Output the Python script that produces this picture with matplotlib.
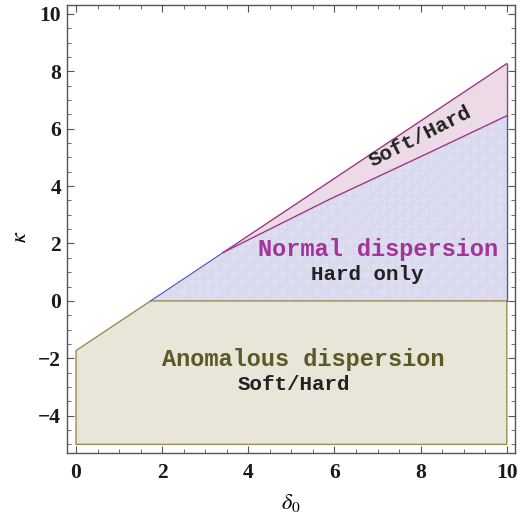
import numpy as np
import matplotlib
matplotlib.use("Agg")
import matplotlib.pyplot as plt
from matplotlib.patches import Polygon
from matplotlib.ticker import MultipleLocator

plt.rcParams["mathtext.fontset"] = "stix"

# ---- data ----
s3 = 1.732
anomalous_x = [0, s3, 10, 10, 0]
anomalous_y = [-s3, 0, 0, -5, -5]

upper_x = [s3, 10]
upper_y = [0, 10 - s3]

lower_x = [3.42, 5.9, 8.22, 10]
lower_y = [1.69, 3.55, 5.18, 6.45]

x_ticks = [0, 2, 4, 6, 8, 10]
y_ticks = [-4, -2, 0, 2, 4, 6, 8, 10]

fig = plt.figure(figsize=(5.22, 5.15), dpi=100)
ax = fig.add_axes([0.1278, 0.1204, 0.9866 - 0.1278, 0.9909 - 0.1204])
ax.set_xlim(-0.216, 10.19)
ax.set_ylim(-5.30, 10.32)

tan_fc = "#e8e5d9"
tan_ec = "#9c8b52"
blue_fc = "#dedef0"
blue_ec = "#5050b8"
pink_fc = "#ecdbe6"
pink_ec = "#9a3a88"

# anomalous region
ax.add_patch(Polygon(np.column_stack([anomalous_x, anomalous_y]), closed=True,
                     facecolor=tan_fc, edgecolor=tan_ec, lw=1.0, zorder=2))

# normal (blue) region
bx = [s3, lower_x[0]] + lower_x[1:] + [10]
by = [0, lower_y[0]] + lower_y[1:] + [0]
blue_pts = np.column_stack([bx, by])
ax.add_patch(Polygon(blue_pts, closed=True, facecolor=blue_fc, edgecolor="none", zorder=1))
ax.add_patch(Polygon(blue_pts, closed=True, fill=False, edgecolor="#d8d8ed", lw=0,
                     hatch="++//", zorder=1.1))
ax.plot([upper_x[0], lower_x[0]], [upper_y[0], lower_y[0]], color=blue_ec, lw=0.8, zorder=3)
ax.plot([10, 10], [0, lower_y[-1]], color=blue_ec, lw=1.0, zorder=3)

# soft/hard (pink) region between upper line and lower curve
ux = np.array(lower_x)
uy = ux - s3
px = list(ux) + list(ux[::-1])
py = list(uy) + list(np.array(lower_y)[::-1])
ax.add_patch(Polygon(np.column_stack([px, py]), closed=True, facecolor=pink_fc,
                     edgecolor="none", zorder=1.5))
ax.plot([lower_x[0], upper_x[1]], [lower_y[0], upper_y[1]], color=pink_ec, lw=1.0, zorder=3)
ax.plot(lower_x, lower_y, color=pink_ec, lw=1.0, zorder=3)
ax.plot([10, 10], [lower_y[-1], upper_y[1]], color=pink_ec, lw=1.0, zorder=3)

mono = "Liberation Mono"
ax.text(7.0, 1.8, "Normal dispersion", family=mono, weight="bold", fontsize=17,
        color="#a3349a", ha="center", va="center", zorder=5)
ax.text(6.75, 0.93, "Hard only", family=mono, weight="bold", fontsize=15,
        color="#222222", ha="center", va="center", zorder=5)
ax.text(5.28, -2.03, "Anomalous dispersion", family=mono, weight="bold", fontsize=17,
        color="#5b5a26", ha="center", va="center", zorder=5)
ax.text(5.06, -2.90, "Soft/Hard", family=mono, weight="bold", fontsize=15,
        color="#222222", ha="center", va="center", zorder=5)
ax.text(8.0, 5.72, "Soft/Hard", family=mono, weight="bold", fontsize=15,
        color="#222222", ha="center", va="center", rotation=27,
        rotation_mode="anchor", zorder=5)

# frame and ticks (Mathematica style)
for sp in ax.spines.values():
    sp.set_color("#555555")
    sp.set_linewidth(1.0)
ax.set_xticks(x_ticks)
ax.set_yticks(y_ticks)
ax.xaxis.set_minor_locator(MultipleLocator(0.5))
ax.yaxis.set_minor_locator(MultipleLocator(0.5))
ax.tick_params(which="both", direction="in", top=True, right=True, color="#555555")
ax.tick_params(which="major", length=5, width=0.8)
ax.tick_params(which="minor", length=3, width=0.6)
ax.tick_params(axis="x", pad=7)
ax.tick_params(axis="y", pad=4)
for lab in ax.get_xticklabels() + ax.get_yticklabels():
    lab.set_fontfamily("Liberation Serif")
    lab.set_fontweight("bold")
    lab.set_fontsize(15.5)
    lab.set_color("#1a1a1a")

ax.set_xlabel(r"$\delta_0$", fontsize=16)
ax.set_ylabel(r"$\kappa$", fontsize=16, rotation=90)
ax.xaxis.set_label_coords(0.499, -0.1115)
ax.yaxis.set_label_coords(-0.104, 0.482)
ax.xaxis.label.set_va("center")
ax.yaxis.label.set_va("center")
ax.yaxis.label.set_ha("center")

fig.savefig("out.png", dpi=100)
